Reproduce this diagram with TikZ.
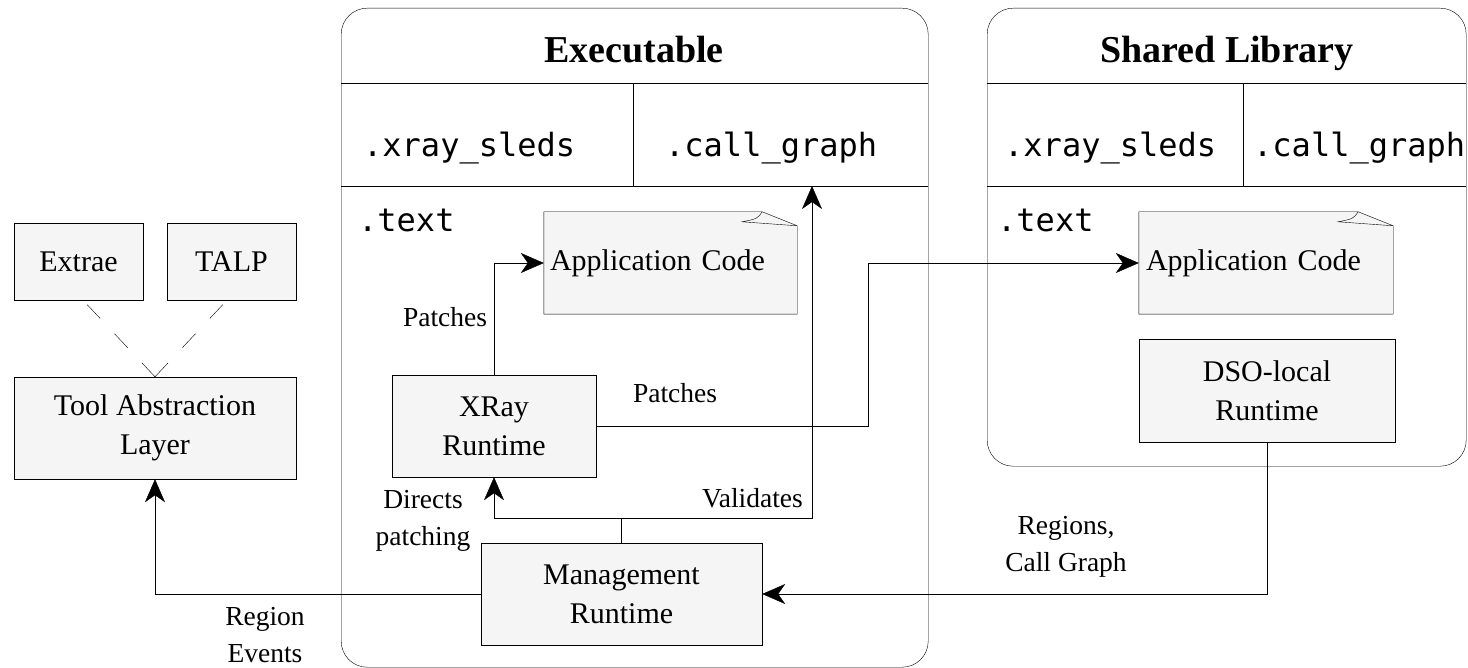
\documentclass[tikz,border=0pt]{standalone}
\usepackage{fontspec}
\setmainfont{Liberation Serif}
\setmonofont{DejaVu Sans Mono}
\usetikzlibrary{arrows.meta,backgrounds}
\definecolor{boxfill}{HTML}{F5F5F5}
\newcommand{\fsbody}{\fontsize{30}{39}\selectfont}
\newcommand{\fslabel}{\fontsize{27.5}{37}\selectfont}
\newcommand{\fstitle}{\bfseries\fontsize{38}{44}\selectfont}
\newcommand{\fsmono}{\ttfamily\fontsize{32}{38}\selectfont}
\begin{document}
\begin{tikzpicture}[x=1pt,y=-1pt,line width=2.6pt,
  box/.style={draw, fill=boxfill, inner sep=0pt, align=center, font=\fsbody},
  container/.style={draw, rounded corners=26pt, inner sep=0pt, anchor=north west},
  notetext/.style={inner ysep=0pt, align=left, font=\fsbody, minimum height=102pt},
  notebox/.style={draw, fill=boxfill},
  arr/.style={-{Stealth[length=23pt,width=20pt,inset=7pt]}},
  lbl/.style={font=\fslabel, align=center, inner sep=0pt},
  ttl/.style={font=\fstitle, inner sep=0pt, anchor=base},
  sect/.style={font=\fsmono, inner sep=0pt, anchor=base west},
  dashline/.style={dash pattern=on 19pt off 21pt}]
\useasboundingbox (0,0) rectangle (1468,668);
\begin{pgfonlayer}{background}
\fill[white] (0,0) rectangle (1468,668);
\end{pgfonlayer}

% containers
\node[container, minimum width=587pt, minimum height=659pt] (exe) at (341,8) {};
\node[container, minimum width=479pt, minimum height=458pt] (lib) at (987,8) {};
\draw (341,83) -- (928,83);
\draw (341,186) -- (928,186);
\draw (633,83) -- (633,186);
\draw (987,83) -- (1466,83);
\draw (987,186) -- (1466,186);
\draw (1243,83) -- (1243,186);

\node[ttl] (exetitle) at (634,63) {Executable};
\node[ttl] (libtitle) at (1227,63) {Shared Library};
\node[sect] (exesleds) at (363,157) {.xray\_sleds};
\node[sect] (execg) at (665,157) {.call\_graph};
\node[sect] (libsleds) at (1004,157) {.xray\_sleds};
\node[sect] (libcg) at (1253,157) {.call\_graph};
\node[sect] (exetext) at (358,232) {.text};
\node[sect] (libtext) at (997,232) {.text};

% boxes
\node[box, minimum width=129pt, minimum height=77pt] (extrae) at (78.5,261.5) {Extrae};
\node[box, minimum width=129pt, minimum height=77pt] (talp) at (231.5,261.5) {TALP};
\node[box, minimum width=282pt, minimum height=102pt] (tal) at (155,428) {Tool Abstraction\\Layer};
\node[box, minimum width=204pt, minimum height=102pt] (xray) at (494,426) {XRay\\Runtime};
\node[box, minimum width=281pt, minimum height=102pt] (mgmt) at (621.5,594) {Management\\Runtime};
\node[box, minimum width=256pt, minimum height=103pt] (dso) at (1267,390.5) {DSO-local\\Runtime};

\node[notetext, text width=241pt, inner xsep=6pt] (app1) at (670.5,263) {Application Code};
\node[notetext, text width=240pt, inner xsep=7pt] (app2) at (1266,263) {Application Code};
\begin{pgfonlayer}{background}
\foreach \n in {app1,app2}{
  \draw[notebox] (\n.north west) -- ([xshift=-35pt]\n.north east) -- ([yshift=-14pt]\n.north east) -- (\n.south east) -- (\n.south west) -- cycle;
  \draw ([xshift=-35pt]\n.north east) .. controls ([xshift=-40pt,yshift=-7pt]\n.north east) .. ([xshift=-55pt,yshift=-10pt]\n.north east) -- ([yshift=-14pt]\n.north east);
}
\end{pgfonlayer}

% connectors
\draw[dashline] (tal.north) -- ([xshift=4.5pt]extrae.south);
\draw[dashline] (tal.north) -- ([xshift=-4.5pt]talp.south);

\draw[arr] (xray.north) |- (app1.west);
\coordinate (k1) at (868,426);
\draw[arr] (xray.east) -- (k1) |- (app2.west);
\coordinate (j) at (621.5,518);
\coordinate (cg) at (812,186);
\draw[arr] (mgmt.north) -- (j) -| (xray.south);
\draw[arr] (j) -| (cg);
\draw[arr] (mgmt.west) -| (tal.south);
\draw[arr] (dso.south) |- (mgmt.east);

% labels
\node[lbl] (lp1) at (445,317) {Patches};
\node[lbl] (lp2) at (675,393) {Patches};
\node[lbl] (ldir) at (423,521) {Directs\\patching};
\node[lbl, anchor=east] (lval) at (803,498) {Validates};
\node[lbl] (lreg) at (265,635) {Region\\Events};
\node[lbl] (lcg) at (1066,547) {Regions,\\Call Graph};
\end{tikzpicture}
\end{document}
